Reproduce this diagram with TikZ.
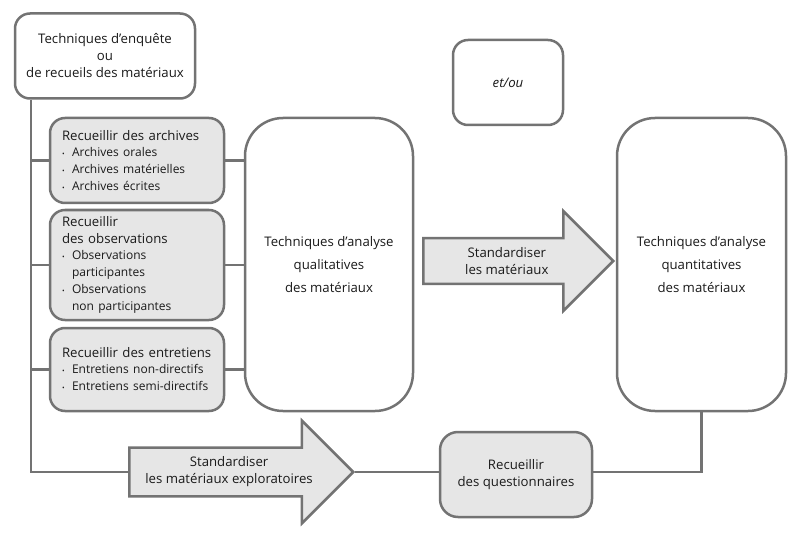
\documentclass[tikz,border=0pt]{standalone}
\usepackage{fontspec}
\setmainfont{Open Sans}
\usetikzlibrary{shapes.arrows,positioning}

\definecolor{edgegray}{HTML}{737373}
\definecolor{boxgray}{HTML}{E6E6E6}
\definecolor{inkgray}{HTML}{1A1A1A}

\newcommand\itm{\makebox[10pt][l]{\scriptsize\textbullet}}

\tikzset{
  box/.style={draw=edgegray, line width=2.5pt, rounded corners=15pt, fill=white,
              align=center, inner sep=0pt, text=inkgray,
              font=\fontsize{13.2}{17}\selectfont},
  greybox/.style={box, fill=boxgray, align=left, minimum width=174pt, text width=150pt},
  tallbox/.style={box, rounded corners=38pt, minimum width=168pt, minimum height=293pt},
  bigarrow/.style={single arrow, draw=edgegray, fill=boxgray, line width=2.5pt,
              single arrow head extend=27pt, align=center, inner xsep=4pt, inner ysep=8pt,
              text=inkgray, font=\fontsize{13.2}{17}\selectfont},
  link/.style={draw=edgegray, line width=2.5pt}
}

\begin{document}
\begin{tikzpicture}[x=1pt,y=-1pt]
\useasboundingbox (0,0) rectangle (800,540);

\node[box, minimum width=180pt, minimum height=85pt] (enquete) at (105,56)
  {Techniques d’enquête\\ou\\de recueils des matériaux};

\node[greybox, minimum height=85pt] (archives) at (137,160.5)
  {Recueillir des archives\\[-1pt]
   {\fontsize{12}{17}\selectfont\itm Archives orales\\\itm Archives matérielles\\\itm Archives écrites}};
\node[greybox, minimum height=110pt] (observ) at (137,265)
  {Recueillir\\des observations\\[-1pt]
   {\fontsize{12}{17}\selectfont\itm Observations\\\hspace*{10pt}participantes\\\itm Observations\\\hspace*{10pt}non participantes}};
\node[greybox, minimum height=83pt] (entretiens) at (137,369.5)
  {Recueillir des entretiens\\[-1pt]
   {\fontsize{12}{17}\selectfont\itm Entretiens non-directifs\\\itm Entretiens semi-directifs}};

\node[tallbox] (quali) at (329,264.5)
  {Techniques d’analyse\\[6pt]qualitatives\\[6pt]des matériaux};
\node[tallbox, minimum width=169pt] (quanti) at (701.5,264.5)
  {Techniques d’analyse\\[6pt]quantitatives\\[6pt]des matériaux};

\node[box, minimum width=110pt, minimum height=85pt] (etou) at (508,82.5) {\itshape et/ou};

\node[box, fill=boxgray, rounded corners=18pt, minimum width=152pt, minimum height=85pt]
  (questionnaires) at (516,474.5) {Recueillir\\des questionnaires};

\node[bigarrow, minimum height=190pt, anchor=tail] (standard) at (422,261)
  {Standardiser\\les matériaux};
\node[bigarrow, minimum height=224pt, anchor=tail] (explor) at (128,472)
  {Standardiser\\les matériaux exploratoires};

% trunk on the left
\coordinate (trunk) at (31,472);
\draw[link] (enquete.south -| trunk) -- (trunk) -- (explor.tail);
\foreach \n in {archives,observ,entretiens}{
  \draw[link] (\n.west -| trunk) -- (\n.west);
  \draw[link] (\n.east) -- (\n.east -| quali.west);
}

% bottom route
\draw[link] (explor.tip) -- (explor.tip -| questionnaires.west);
\draw[link] (explor.tip -| questionnaires.east) -| (quanti.south);
\end{tikzpicture}
\end{document}
